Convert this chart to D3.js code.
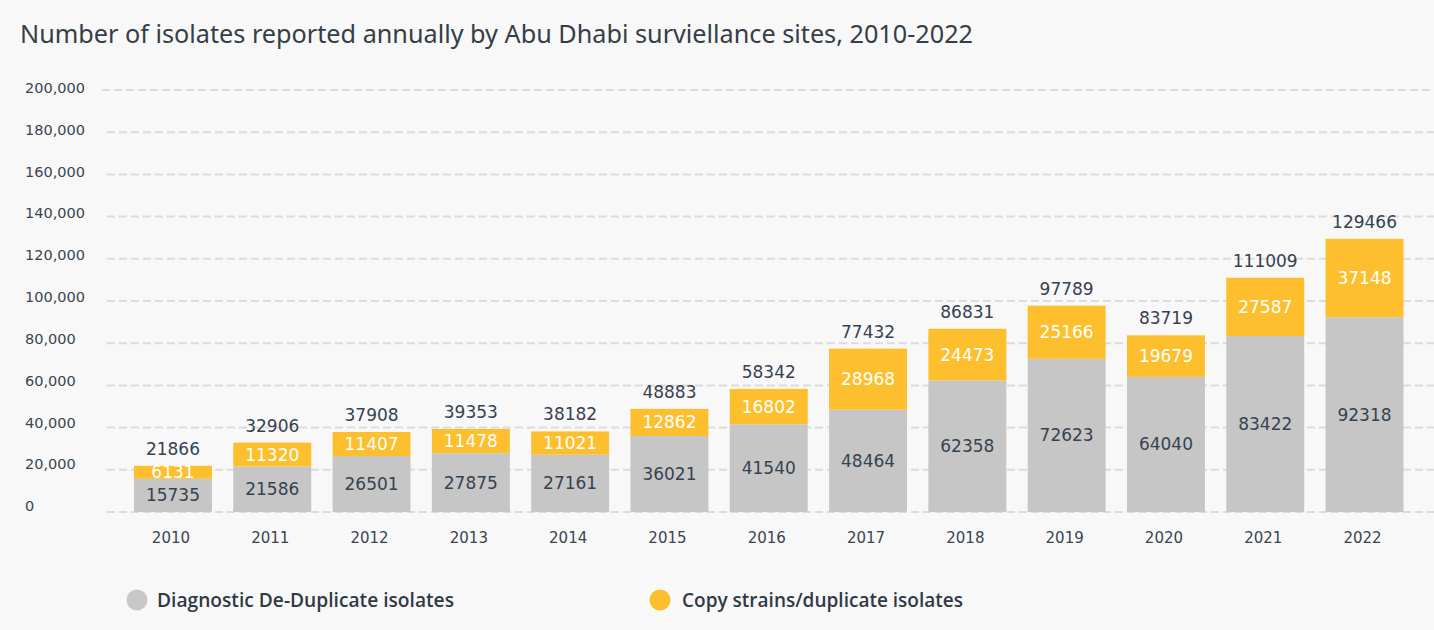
<!DOCTYPE html>
<html>
<head>
<meta charset="utf-8">
<script src="https://cdn.jsdelivr.net/npm/d3@7"></script>
<style>
    html, body { margin: 0; padding: 0; background: #f8f8f8; }
    svg { display: block; }
    .title { font-family: 'Noto Sans', sans-serif; font-size: 26px; fill: #353e47; }
    .tick-label { font-family: 'DejaVu Sans', sans-serif; font-size: 14.5px; fill: #3b4550; }
    .year-label { font-family: 'DejaVu Sans', sans-serif; font-size: 15px; fill: #3b4550; }
    .bar-label { font-family: 'DejaVu Sans', sans-serif; font-size: 17px; }
    .legend-label { font-family: 'Open Sans', sans-serif; font-size: 19px; font-weight: 600; fill: #2f3a45; }
</style>
</head>
<body>
<div id="chart"></div>
<script>
const years = ['2010', '2011', '2012', '2013', '2014', '2015', '2016', '2017', '2018', '2019', '2020', '2021', '2022'];
const diagnostic = [15735, 21586, 26501, 27875, 27161, 36021, 41540, 48464, 62358, 72623, 64040, 83422, 92318];
const duplicate = [6131, 11320, 11407, 11478, 11021, 12862, 16802, 28968, 24473, 25166, 19679, 27587, 37148];
const totals = [21866, 32906, 37908, 39353, 38182, 48883, 58342, 77432, 86831, 97789, 83719, 111009, 129466];
const yTicks = [0, 20000, 40000, 60000, 80000, 100000, 120000, 140000, 160000, 180000, 200000];
const seriesNames = ['Diagnostic De-Duplicate isolates', 'Copy strains/duplicate isolates'];

const colors = { diag: '#c6c6c6', dup: '#fdbf2d' };
const width = 1434, height = 630;

const svg = d3.select('#chart').append('svg')
    .attr('width', width)
    .attr('height', height);

svg.append('rect')
    .attr('width', width)
    .attr('height', height)
    .attr('fill', '#f8f8f8');

// Title
svg.append('text')
    .attr('class', 'title')
    .attr('x', 20)
    .attr('y', 43)
    .attr('textLength', 953)
    .attr('lengthAdjust', 'spacingAndGlyphs')
    .text('Number of isolates reported annually by Abu Dhabi surviellance sites, 2010-2022');

// Scales
const x = d3.scaleBand()
    .domain(years)
    .range([104.2, 1433.3])
    .paddingInner(0.215)
    .paddingOuter(0.3);

const y = d3.scaleLinear()
    .domain([0, 200000])
    .range([512, 90]);

// tick labels sit a bit above their gridlines in the original
const yLabel = d3.scaleLinear()
    .domain([0, 200000])
    .range([506, 87.5]);

// Gridlines
svg.append('g')
    .selectAll('line')
    .data(yTicks)
    .join('line')
    .attr('x1', d => d === 200000 ? 102 : 107)
    .attr('x2', width)
    .attr('y1', d => y(d))
    .attr('y2', d => y(d))
    .attr('stroke', '#dcdcdc')
    .attr('stroke-width', 2)
    .attr('stroke-dasharray', '8,4');

// Y tick labels (left aligned)
svg.append('g')
    .selectAll('text')
    .data(yTicks)
    .join('text')
    .attr('class', 'tick-label')
    .attr('x', 25)
    .attr('y', d => yLabel(d) + 5.3)
    .text(d => d3.format(',')(d));

// Bars
const rows = years.map((yr, i) => ({ year: yr, diag: diagnostic[i], dup: duplicate[i], total: totals[i] }));

const g = svg.append('g');

g.selectAll('.bar-diag')
    .data(rows)
    .join('rect')
    .attr('class', 'bar-diag')
    .attr('x', d => x(d.year))
    .attr('width', x.bandwidth())
    .attr('y', d => y(d.diag))
    .attr('height', d => y(0) - y(d.diag))
    .attr('fill', colors.diag);

g.selectAll('.bar-dup')
    .data(rows)
    .join('rect')
    .attr('class', 'bar-dup')
    .attr('x', d => x(d.year))
    .attr('width', x.bandwidth())
    .attr('y', d => y(d.diag + d.dup))
    .attr('height', d => y(d.diag) - y(d.diag + d.dup))
    .attr('fill', colors.dup);

// Segment labels
g.selectAll('.lbl-diag')
    .data(rows)
    .join('text')
    .attr('class', 'bar-label')
    .attr('text-anchor', 'middle')
    .attr('x', d => x(d.year) + x.bandwidth() / 2)
    .attr('y', d => (y(0) + y(d.diag)) / 2 + 6)
    .attr('fill', '#364250')
    .text(d => d.diag);

g.selectAll('.lbl-dup')
    .data(rows)
    .join('text')
    .attr('class', 'bar-label')
    .attr('text-anchor', 'middle')
    .attr('x', d => x(d.year) + x.bandwidth() / 2)
    .attr('y', d => (y(d.diag) + y(d.diag + d.dup)) / 2 + 6)
    .attr('fill', '#ffffff')
    .text(d => d.dup);

g.selectAll('.lbl-total')
    .data(rows)
    .join('text')
    .attr('class', 'bar-label')
    .attr('text-anchor', 'middle')
    .attr('x', d => x(d.year) + x.bandwidth() / 2)
    .attr('y', d => y(d.diag + d.dup) - 11)
    .attr('fill', '#364250')
    .text(d => d.total);

// Year labels
svg.append('g')
    .selectAll('text')
    .data(years)
    .join('text')
    .attr('class', 'year-label')
    .attr('text-anchor', 'middle')
    .attr('x', d => x(d) + x.bandwidth() / 2 - 2)
    .attr('y', 543)
    .text(d => d);

// Legend
const legend = [
    { name: seriesNames[0], color: '#c8c8c8', cx: 137, tx: 157, len: 297 },
    { name: seriesNames[1], color: '#fcc02e', cx: 660, tx: 682, len: 281 }
];

const lg = svg.append('g')
    .selectAll('g')
    .data(legend)
    .join('g');

lg.append('circle')
    .attr('cx', d => d.cx)
    .attr('cy', 600)
    .attr('r', 10.5)
    .attr('fill', d => d.color);

lg.append('text')
    .attr('class', 'legend-label')
    .attr('x', d => d.tx)
    .attr('y', 607)
    .attr('textLength', d => d.len)
    .attr('lengthAdjust', 'spacingAndGlyphs')
    .text(d => d.name);
</script>
</body>
</html>
